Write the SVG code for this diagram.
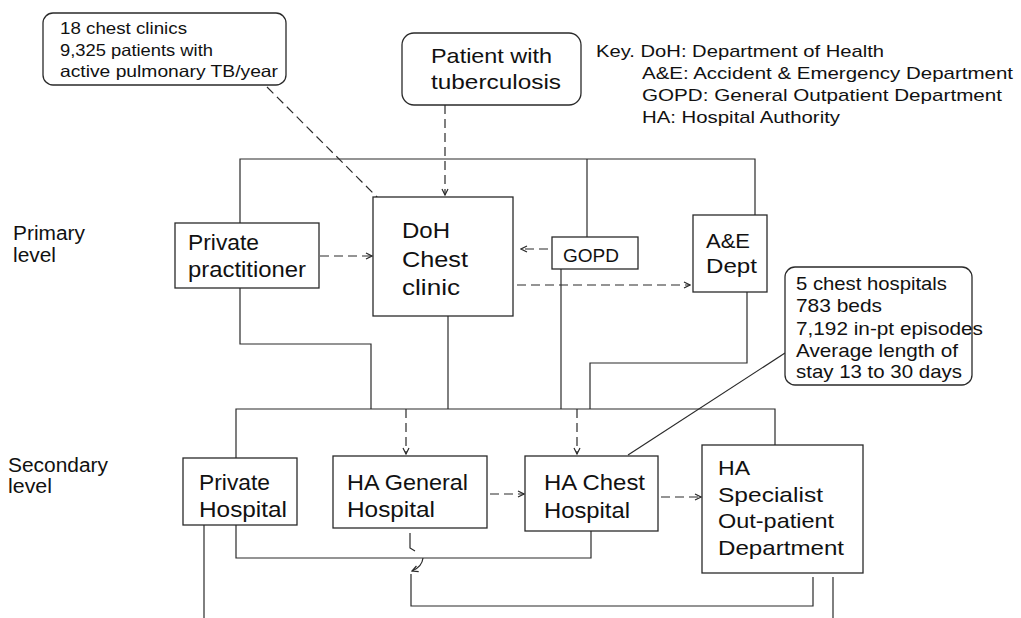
<svg xmlns="http://www.w3.org/2000/svg" width="1021" height="618" viewBox="0 0 1021 618">
<style>
  .bg{fill:#ffffff}
  .box{fill:#ffffff;stroke:#2a2a2a;stroke-width:1.3}
  .ln{fill:none;stroke:#2a2a2a;stroke-width:1.2}
  .dash{fill:none;stroke:#2a2a2a;stroke-width:1.2;stroke-dasharray:9 5}
  text{font-family:"Liberation Sans",Arial,sans-serif;fill:#111}
  .t16{font-size:16.5px}
  .t17{font-size:17px}
  .t18{font-size:18.5px}
  .t19{font-size:19px}
  .t20{font-size:20px}
  .t21{font-size:21px}
  .t22{font-size:22px}
</style>
<defs>
  <marker id="arr" viewBox="0 0 8 8" refX="7" refY="4" markerWidth="8" markerHeight="8" markerUnits="userSpaceOnUse" orient="auto">
    <path d="M1,1 L7,4 L1,7" fill="none" stroke="#2a2a2a" stroke-width="1.2"/>
  </marker>
</defs>
<rect class="bg" x="0" y="0" width="1021" height="618"/>

<g id="connectors">
  <!-- top bracket -->
  <path class="ln" d="M240,223 V159 H755 V215"/>
  <path class="ln" d="M587,159 V237"/>
  <!-- primary to secondary -->
  <path class="ln" d="M240,288 V344 H371 V409"/>
  <path class="ln" d="M448,316 V409"/>
  <path class="ln" d="M561,269 V409"/>
  <path class="ln" d="M747,292 V363 H590 V409"/>
  <!-- bottom bracket -->
  <path class="ln" d="M236,458 V409 H775 V445"/>
  <path class="ln" d="M236,525 V558 H591 V531"/>
  <path class="ln" d="M204,525 V618"/>
  <path class="ln" d="M411,574 V606 H813 V577"/>
  <path class="ln" d="M833,577 V618"/>
  <path class="ln" d="M410,533 V548 L415,551"/>
  <path class="ln" d="M423,558 Q422,567 412,571" marker-end="url(#arr)"/>
  <!-- dashed arrows -->
  <path class="dash" d="M445,105 V195" marker-end="url(#arr)"/>
  <path class="dash" d="M267,87 L392,212" marker-end="url(#arr)"/>
  <path class="dash" d="M320,256 H372" marker-end="url(#arr)"/>
  <path class="dash" d="M548,249 H521" marker-end="url(#arr)"/>
  <path class="dash" d="M517,285 H690" marker-end="url(#arr)"/>
  <path class="dash" d="M406,409 V454" marker-end="url(#arr)"/>
  <path class="dash" d="M577,409 V454" marker-end="url(#arr)"/>
  <path class="dash" d="M490,494 H524" marker-end="url(#arr)"/>
  <path class="dash" d="M661,497 H701" marker-end="url(#arr)"/>
  <!-- callout pointer -->
  <path class="ln" d="M785,353 L628,455"/>
</g>

<g id="callout-clinics">
  <rect class="box" x="43" y="13" width="243" height="72" rx="10"/>
  <text class="t16" x="60" y="34" textLength="127" lengthAdjust="spacingAndGlyphs">18 chest clinics</text>
  <text class="t16" x="60" y="56" textLength="153" lengthAdjust="spacingAndGlyphs">9,325 patients with</text>
  <text class="t16" x="60" y="77" textLength="218" lengthAdjust="spacingAndGlyphs">active pulmonary TB/year</text>
</g>

<g id="patient">
  <rect class="box" x="402" y="33" width="179" height="72" rx="12"/>
  <text class="t21" x="431" y="63" textLength="121" lengthAdjust="spacingAndGlyphs">Patient with</text>
  <text class="t21" x="431" y="89" textLength="130" lengthAdjust="spacingAndGlyphs">tuberculosis</text>
</g>

<g id="key">
  <text class="t17" x="596" y="57" textLength="288" lengthAdjust="spacingAndGlyphs">Key. DoH: Department of Health</text>
  <text class="t17" x="642" y="79" textLength="371" lengthAdjust="spacingAndGlyphs">A&amp;E: Accident &amp; Emergency Department</text>
  <text class="t17" x="642" y="101" textLength="360" lengthAdjust="spacingAndGlyphs">GOPD: General Outpatient Department</text>
  <text class="t17" x="642" y="123" textLength="198" lengthAdjust="spacingAndGlyphs">HA: Hospital Authority</text>
</g>

<g id="label-primary">
  <text class="t20" x="13" y="240" textLength="72" lengthAdjust="spacingAndGlyphs">Primary</text>
  <text class="t20" x="13" y="262" textLength="43" lengthAdjust="spacingAndGlyphs">level</text>
</g>

<g id="label-secondary">
  <text class="t20" x="8" y="472" textLength="100" lengthAdjust="spacingAndGlyphs">Secondary</text>
  <text class="t20" x="8" y="493" textLength="44" lengthAdjust="spacingAndGlyphs">level</text>
</g>

<g id="private-practitioner">
  <rect class="box" x="175" y="223" width="144" height="65"/>
  <text class="t22" x="188" y="250" textLength="71" lengthAdjust="spacingAndGlyphs">Private</text>
  <text class="t22" x="188" y="277" textLength="118" lengthAdjust="spacingAndGlyphs">practitioner</text>
</g>

<g id="doh-chest-clinic">
  <rect class="box" x="373" y="197" width="140" height="119"/>
  <text class="t22" x="402" y="238" textLength="48" lengthAdjust="spacingAndGlyphs">DoH</text>
  <text class="t22" x="402" y="267" textLength="66" lengthAdjust="spacingAndGlyphs">Chest</text>
  <text class="t22" x="402" y="295" textLength="58" lengthAdjust="spacingAndGlyphs">clinic</text>
</g>

<g id="gopd">
  <rect class="box" x="552" y="237" width="86" height="32"/>
  <text class="t19" x="563" y="262" textLength="56" lengthAdjust="spacingAndGlyphs">GOPD</text>
</g>

<g id="ae-dept">
  <rect class="box" x="693" y="215" width="74" height="77"/>
  <text class="t21" x="706" y="248" textLength="44" lengthAdjust="spacingAndGlyphs">A&amp;E</text>
  <text class="t21" x="706" y="273" textLength="51" lengthAdjust="spacingAndGlyphs">Dept</text>
</g>

<g id="callout-hospitals">
  <rect class="box" x="785" y="267" width="187" height="118" rx="10"/>
  <text class="t18" x="796" y="290" textLength="151" lengthAdjust="spacingAndGlyphs">5 chest hospitals</text>
  <text class="t18" x="796" y="312" textLength="86" lengthAdjust="spacingAndGlyphs">783 beds</text>
  <text class="t18" x="796" y="335" textLength="187" lengthAdjust="spacingAndGlyphs">7,192 in-pt episodes</text>
  <text class="t18" x="796" y="357" textLength="162" lengthAdjust="spacingAndGlyphs">Average length of</text>
  <text class="t18" x="796" y="378" textLength="166" lengthAdjust="spacingAndGlyphs">stay 13 to 30 days</text>
</g>

<g id="private-hospital">
  <rect class="box" x="183" y="458" width="114" height="67"/>
  <text class="t22" x="199" y="490" textLength="71" lengthAdjust="spacingAndGlyphs">Private</text>
  <text class="t22" x="199" y="517" textLength="88" lengthAdjust="spacingAndGlyphs">Hospital</text>
</g>

<g id="ha-general-hospital">
  <rect class="box" x="333" y="456" width="154" height="72"/>
  <text class="t22" x="347" y="490" textLength="121" lengthAdjust="spacingAndGlyphs">HA General</text>
  <text class="t22" x="347" y="517" textLength="88" lengthAdjust="spacingAndGlyphs">Hospital</text>
</g>

<g id="ha-chest-hospital">
  <rect class="box" x="525" y="456" width="133" height="75"/>
  <text class="t22" x="544" y="490" textLength="101" lengthAdjust="spacingAndGlyphs">HA Chest</text>
  <text class="t22" x="544" y="518" textLength="86" lengthAdjust="spacingAndGlyphs">Hospital</text>
</g>

<g id="ha-specialist-opd">
  <rect class="box" x="702" y="445" width="161" height="128"/>
  <text class="t21" x="718" y="475" textLength="32" lengthAdjust="spacingAndGlyphs">HA</text>
  <text class="t21" x="718" y="502" textLength="105" lengthAdjust="spacingAndGlyphs">Specialist</text>
  <text class="t21" x="718" y="528" textLength="116" lengthAdjust="spacingAndGlyphs">Out-patient</text>
  <text class="t21" x="718" y="555" textLength="126" lengthAdjust="spacingAndGlyphs">Department</text>
</g>
</svg>
